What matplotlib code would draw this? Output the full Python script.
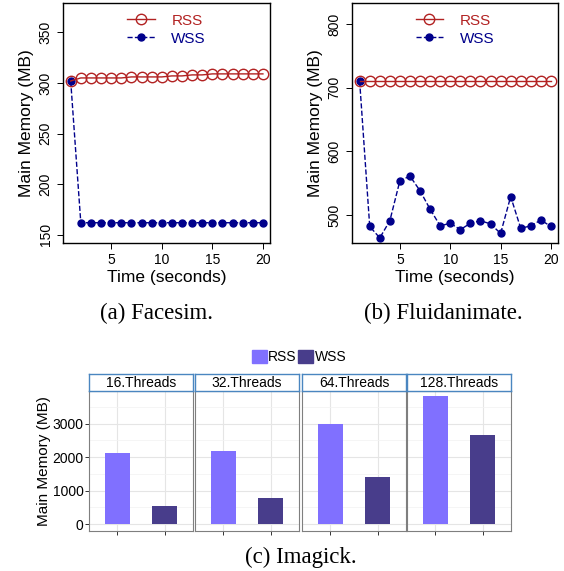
import numpy as np
import matplotlib.pyplot as plt
from matplotlib.patches import Patch

plt.rcParams['font.family'] = ['Liberation Sans', 'DejaVu Sans']

# (a) Facesim
t = np.arange(1, 21)
facesim_rss = [302, 305, 305, 305, 305, 305, 306, 306, 306, 306,
               307, 307, 308, 308, 309, 309, 309, 309, 309, 309]
facesim_wss = [302] + [162] * 19

# (b) Fluidanimate
fluid_rss = [710] * 20
fluid_wss = [710, 482, 464, 491, 554, 561, 538, 509, 483, 487,
             477, 487, 491, 486, 471, 529, 479, 483, 492, 482]

# (c) Imagick
threads = ['16.Threads', '32.Threads', '64.Threads', '128.Threads']
imagick_rss = [2133, 2193, 2979, 3815]
imagick_wss = [538, 777, 1404, 2650]

RED = '#B22222'
BLUE = '#00008B'
C_RSS = '#8070FF'
C_WSS = '#483D8B'

W, H = 564, 571
fig = plt.figure(figsize=(W / 100, H / 100), dpi=100)


def fx(px):
    return px / W


def fy(py):
    return 1 - py / H


def line_panel(rect, rss, wss, ylim, yticks, caption, cx):
    ax = fig.add_axes(rect)
    ax.plot(t, wss, '--', color=BLUE, lw=1, marker='o', ms=5,
            mfc=BLUE, mec=BLUE, label='WSS', zorder=2)
    ax.plot(t, rss, '-', color=RED, lw=1, marker='o', ms=7.5,
            mfc='none', mec=RED, mew=1, label='RSS', zorder=3)
    ax.set_xlim(0.24, 20.7)
    ax.set_ylim(*ylim)
    ax.set_xticks([5, 10, 15, 20])
    ax.set_yticks(yticks)
    ax.tick_params(labelsize=10, length=4, width=0.7)
    for lab in ax.get_yticklabels():
        lab.set_rotation(90)
        lab.set_va('center')
    ax.set_xlabel('Time (seconds)', fontsize=12.5, labelpad=2)
    ax.set_ylabel('Main Memory (MB)', fontsize=12.5, labelpad=3)
    for s in ax.spines.values():
        s.set_linewidth(1)
    h, l = ax.get_legend_handles_labels()
    leg = ax.legend(h[::-1], l[::-1], loc='upper center', frameon=False,
                    fontsize=11, handlelength=1.8, handletextpad=1.1,
                    labelspacing=0.25, borderaxespad=0.3,
                    bbox_to_anchor=(0.5, 1.0))
    for txt, c in zip(leg.get_texts(), [RED, BLUE]):
        txt.set_color(c)
    fig.text(cx, fy(313), caption, ha='center', va='center',
             fontsize=16.5, family='Liberation Serif')
    return ax


line_panel([fx(63), fy(243), fx(207), (243 - 3) / H], facesim_rss,
           facesim_wss, (142, 379), [150, 200, 250, 300, 350],
           '(a) Facesim.', fx(157))
line_panel([fx(352), fy(243), fx(206), (243 - 3) / H], fluid_rss,
           fluid_wss, (456, 833), [500, 600, 700, 800],
           '(b) Fluidanimate.', fx(443))

# facet panels for (c)
panel_left = [89, 195, 302, 407]
panel_w = 104
for i, name in enumerate(threads):
    ax = fig.add_axes([fx(panel_left[i]), fy(531), fx(panel_w), (531 - 391) / H])
    ax.bar([1, 2], [imagick_rss[i], imagick_wss[i]], width=0.52,
           color=[C_RSS, C_WSS], zorder=2)
    ax.set_xlim(0.4, 2.6)
    ax.set_ylim(-200, 3970)
    ax.set_xticks([1, 2])
    ax.set_xticklabels([])
    ax.set_yticks([0, 1000, 2000, 3000])
    ax.set_yticks([500, 1500, 2500, 3500], minor=True)
    ax.grid(True, which='major', color='#E5E5E5', lw=0.8, zorder=0)
    ax.grid(True, which='minor', axis='y', color='#F2F2F2', lw=0.5, zorder=0)
    ax.tick_params(axis='x', length=3, color='#333333', width=0.7)
    ax.tick_params(axis='y', which='minor', length=0)
    if i == 0:
        ax.tick_params(axis='y', labelsize=10, length=3, color='#333333',
                       width=0.7, pad=1)
        ax.set_ylabel('Main Memory (MB)', fontsize=11, labelpad=1)
    else:
        ax.tick_params(axis='y', which='major', length=0, labelleft=False)
    for s in ax.spines.values():
        s.set_color('#7F7F7F')
        s.set_linewidth(0.8)
    sax = fig.add_axes([fx(panel_left[i]), fy(391), fx(panel_w), 17 / H])
    sax.set_xticks([])
    sax.set_yticks([])
    for s in sax.spines.values():
        s.set_color('#4A86C0')
        s.set_linewidth(1)
    sax.text(0.5, 0.45, name, ha='center', va='center', fontsize=10,
             transform=sax.transAxes)

fig.legend([Patch(color=C_RSS), Patch(color=C_WSS)], ['RSS', 'WSS'],
           loc='center', bbox_to_anchor=(fx(299), fy(357)), ncol=2,
           frameon=False, fontsize=10, handlelength=1.1, handleheight=1.1,
           handletextpad=0.1, columnspacing=0.1)

fig.text(fx(301), fy(557), '(c) Imagick.', ha='center', va='center',
         fontsize=16.5, family='Liberation Serif')

fig.savefig('out.png', dpi=100)
